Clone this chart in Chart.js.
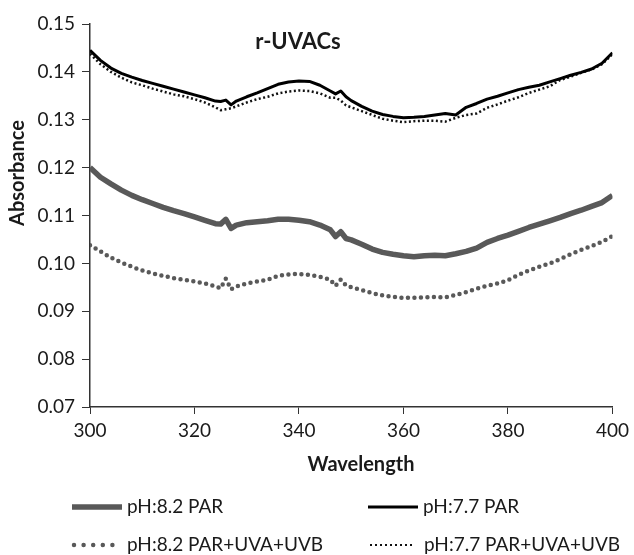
<!DOCTYPE html>
<html lang="en">
<head>
<meta charset="UTF-8">
<title>r-UVACs absorbance</title>
<script src="https://cdn.jsdelivr.net/npm/chart.js@4.4.0/dist/chart.umd.min.js"></script>
<style>
  body { margin: 0; background: #fff; }
</style>
</head>
<body>
<canvas id="canvas" width="634" height="555"></canvas>
<script>
// wavelengths (nm), finer around the small artefacts at ~326 and ~348 nm
const wavelengths = [300, 302, 304, 306, 308, 310, 312, 314, 316, 318, 320, 322, 324, 325, 326, 327, 328,
  330, 332, 334, 336, 338, 340, 342, 344, 346, 347, 348, 349,
  350, 352, 354, 356, 358, 360, 362, 364, 366, 368, 370, 372, 374, 376, 378, 380,
  382, 384, 386, 388, 390, 392, 394, 396, 398, 400];

const ph82Par = [0.1200, 0.1180, 0.1166, 0.1153, 0.1142, 0.1133, 0.1125, 0.1117, 0.1110, 0.1104, 0.1097, 0.1090, 0.1083, 0.1082, 0.1092, 0.1073, 0.1080,
  0.1085, 0.1087, 0.1089, 0.1092, 0.1092, 0.1090, 0.1087, 0.1080, 0.1070, 0.1056, 0.1066, 0.1052,
  0.1049, 0.1040, 0.1030, 0.1023, 0.1019, 0.1016, 0.1014, 0.1016, 0.1017, 0.1016, 0.1020, 0.1025, 0.1032, 0.1044, 0.1052, 0.1059,
  0.1067, 0.1075, 0.1082, 0.1089, 0.1096, 0.1104, 0.1111, 0.1119, 0.1127, 0.1142];

const ph77Par = [0.1445, 0.1424, 0.1408, 0.1397, 0.1389, 0.1382, 0.1376, 0.1370, 0.1364, 0.1358, 0.1352, 0.1346, 0.1339, 0.1338, 0.1341, 0.1331, 0.1339,
  0.1348, 0.1356, 0.1365, 0.1374, 0.1379, 0.1381, 0.1380, 0.1372, 0.1360, 0.1354, 0.1360, 0.1348,
  0.1340, 0.1328, 0.1318, 0.1311, 0.1307, 0.1304, 0.1305, 0.1307, 0.1310, 0.1313, 0.1310, 0.1326, 0.1334, 0.1343, 0.1349, 0.1356,
  0.1363, 0.1368, 0.1372, 0.1379, 0.1386, 0.1393, 0.1399, 0.1406, 0.1418, 0.1440];

const ph82Uv = [0.1038, 0.1025, 0.1012, 0.1002, 0.0993, 0.0985, 0.0979, 0.0974, 0.0969, 0.0966, 0.0962, 0.0958, 0.0952, 0.0948, 0.0968, 0.0946, 0.0952,
  0.0958, 0.0962, 0.0966, 0.0974, 0.0977, 0.0978, 0.0976, 0.0972, 0.0966, 0.0953, 0.0966, 0.0954,
  0.0950, 0.0944, 0.0938, 0.0933, 0.0930, 0.0928, 0.0928, 0.0929, 0.0930, 0.0929, 0.0934, 0.0940, 0.0947, 0.0953, 0.0958, 0.0965,
  0.0976, 0.0985, 0.0993, 0.1000, 0.1009, 0.1019, 0.1028, 0.1036, 0.1045, 0.1057];

const ph77Uv = [0.1438, 0.1416, 0.1400, 0.1388, 0.1378, 0.1372, 0.1365, 0.1359, 0.1353, 0.1349, 0.1343, 0.1336, 0.1326, 0.1320, 0.1322, 0.1324, 0.1328,
  0.1336, 0.1343, 0.1348, 0.1355, 0.1359, 0.1361, 0.1360, 0.1355, 0.1346, 0.1346, 0.1340, 0.1330,
  0.1326, 0.1318, 0.1310, 0.1302, 0.1298, 0.1295, 0.1297, 0.1298, 0.1298, 0.1296, 0.1304, 0.1310, 0.1313, 0.1325, 0.1332, 0.1340,
  0.1347, 0.1356, 0.1363, 0.1370, 0.1383, 0.1390, 0.1398, 0.1405, 0.1416, 0.1437];

const seriesLabels = ['pH:8.2 PAR', 'pH:7.7 PAR', 'pH:8.2 PAR+UVA+UVB', 'pH:7.7 PAR+UVA+UVB'];
const chartTitle = 'r-UVACs';
const xTitle = 'Wavelength';
const yTitle = 'Absorbance';

const FONT = 'Lato, "Open Sans", sans-serif';
const TEXT = '#1a1a1a';

function pts(vals) {
  return wavelengths.map((w, i) => ({ x: w, y: vals[i] }));
}

const styles = [
  { color: '#595959', width: 5.5, dash: [], cap: 'butt' },
  { color: '#000000', width: 3, dash: [], cap: 'butt' },
  { color: '#595959', width: 4.5, dash: [0, 6.5], cap: 'round' },
  { color: '#111111', width: 2.5, dash: [2, 2.5], cap: 'butt' }
];

const datasets = [ph82Par, ph77Par, ph82Uv, ph77Uv].map((vals, i) => ({
  label: seriesLabels[i],
  data: pts(vals),
  borderColor: styles[i].color,
  borderWidth: styles[i].width,
  borderDash: styles[i].dash,
  borderCapStyle: styles[i].cap,
  borderJoinStyle: 'round',
  pointRadius: 0,
  tension: 0,
  fill: false
}));

// chart title, axis titles and the two column legend
const extras = {
  id: 'extras',
  afterDraw(chart) {
    const ctx = chart.ctx;
    const xs = chart.scales.x, ys = chart.scales.y;
    ctx.save();
    ctx.fillStyle = TEXT;
    ctx.textAlign = 'center';
    ctx.textBaseline = 'middle';
    ctx.font = 'bold 22px ' + FONT;
    ctx.fillText(chartTitle, xs.getPixelForValue(339.8), ys.getPixelForValue(0.1462));

    ctx.font = 'bold 20px ' + FONT;
    ctx.fillText(xTitle, 361, 465);
    ctx.save();
    ctx.translate(18, 173);
    ctx.rotate(-Math.PI / 2);
    ctx.fillText(yTitle, 0, 0);
    ctx.restore();

    const items = [
      { x0: 72, x1: 122, tx: 127, y: 507, dash: null },
      { x0: 368, x1: 418, tx: 423, y: 507, dash: null },
      { x0: 74, x1: 122, tx: 127, y: 545, dash: [0, 9.6] },
      { x0: 370, x1: 413, tx: 424, y: 545, dash: [2, 3] }
    ];
    items.forEach((it, i) => {
      const st = styles[i];
      ctx.beginPath();
      ctx.strokeStyle = st.color;
      ctx.lineWidth = i === 3 ? 2 : st.width;
      ctx.lineCap = st.cap;
      ctx.setLineDash(it.dash || st.dash);
      ctx.moveTo(it.x0, it.y);
      ctx.lineTo(it.x1, it.y);
      ctx.stroke();
      ctx.setLineDash([]);
      ctx.fillStyle = TEXT;
      ctx.font = '19px ' + FONT;
      ctx.textAlign = 'left';
      ctx.fillText(seriesLabels[i], it.tx, it.y);
    });
    ctx.restore();
  }
};

new Chart(document.getElementById('canvas').getContext('2d'), {
  type: 'line',
  data: { datasets: datasets },
  options: {
    responsive: false,
    animation: false,
    devicePixelRatio: 1,
    layout: { padding: { left: 0, top: 24, right: 21, bottom: 75 } },
    plugins: {
      legend: { display: false },
      tooltip: { enabled: false }
    },
    scales: {
      x: {
        type: 'linear',
        min: 300,
        max: 400,
        afterFit(s) { s.height = 73; },
        ticks: { stepSize: 20, color: TEXT, font: { family: FONT, size: 19 }, padding: 5 },
        grid: { display: true, drawOnChartArea: false, drawTicks: true, tickLength: 7, color: '#333' },
        border: { color: '#333', width: 1.5 }
      },
      y: {
        min: 0.07,
        max: 0.15,
        afterFit(s) { s.width = 90; },
        ticks: {
          stepSize: 0.01,
          color: TEXT,
          font: { family: FONT, size: 19 },
          padding: 7,
          callback: v => v.toFixed(2)
        },
        grid: { display: true, drawOnChartArea: false, drawTicks: true, tickLength: 8, color: '#333' },
        border: { color: '#333', width: 1.5 }
      }
    }
  },
  plugins: [extras]
});
</script>
</body>
</html>
